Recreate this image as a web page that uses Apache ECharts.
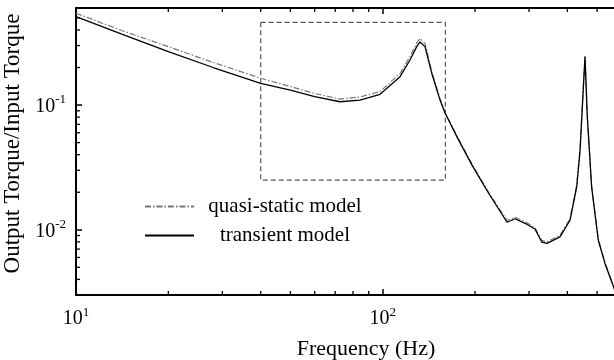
<!DOCTYPE html>
<html>
<head>
<meta charset="utf-8">
<script src="https://cdn.jsdelivr.net/npm/echarts@6/dist/echarts.min.js"></script>
<style>html,body{margin:0;padding:0;background:#fff;}#c{width:614px;height:360px;}</style>
</head>
<body>
<div id="c"></div>
<script>
// ---- data ----
const freqHz = [10, 14.1, 20, 28, 40, 50, 60, 72.6, 84.3, 98, 113.9, 122.7, 129.1, 132.3, 137.4, 144.5, 153.8, 159.7, 176.1, 195.5, 220.4, 241.3, 254.3, 270, 293.3, 313.8, 330, 343.4, 378.4, 408, 429, 440, 448.7, 456.6, 464.5, 479.8, 504.5, 530.7, 564.9, 593.9];
const transientModel = [0.512, 0.37, 0.268, 0.2, 0.149, 0.132, 0.1166, 0.1063, 0.1096, 0.122, 0.1688, 0.2298, 0.294, 0.3206, 0.294, 0.1797, 0.1096, 0.0863, 0.0533, 0.033, 0.02, 0.01408, 0.01149, 0.01226, 0.01117, 0.0101, 0.00798, 0.00779, 0.00876, 0.01192, 0.0221, 0.0435, 0.1097, 0.2445, 0.0805, 0.0221, 0.00824, 0.00535, 0.00352, 0.00248];
const quasiStaticModel = [0.545, 0.396, 0.294, 0.2195, 0.164, 0.1408, 0.1237, 0.1117, 0.116, 0.1283, 0.179, 0.2453, 0.3148, 0.342, 0.312, 0.1858, 0.1117, 0.0871, 0.0543, 0.0336, 0.0204, 0.01447, 0.01192, 0.0126, 0.01149, 0.01038, 0.00823, 0.00801, 0.00903, 0.01226, 0.0228, 0.0445, 0.112, 0.2445, 0.082, 0.0226, 0.0084, 0.00545, 0.00358, 0.00252];
const seriesNames = ['quasi-static model', 'transient model'];
const zoomBoxX = [40, 160];
const zoomBoxY = [0.025, 0.46];
const xRange = [10, 778];
const yRange = [0.003, 0.6];
const xMinorTicks = [20, 30, 40, 50, 60, 70, 80, 90, 200, 300, 400, 500, 600, 700];
const yMinorTicks = [0.004, 0.005, 0.006, 0.007, 0.008, 0.009, 0.02, 0.03, 0.04, 0.05, 0.06, 0.07, 0.08, 0.09, 0.2, 0.3, 0.4, 0.5];
const xTitle = 'Frequency (Hz)';
const yTitle = 'Output Torque/Input Torque';

const FONT = '"Liberation Serif", "Times New Roman", serif';
function pow10Label(v) {
  const l = Math.log10(v);
  if (Math.abs(l - Math.round(l)) > 1e-6) return '';
  return '{m|10}{s|' + Math.round(l) + '}';
}
const richLbl = {
  m: {fontSize: 20, fontFamily: FONT, color: '#000', verticalAlign: 'bottom'},
  s: {fontSize: 13, fontFamily: FONT, color: '#000', verticalAlign: 'bottom', padding: [0, 0, 10, 0]}
};

const chart = echarts.init(document.getElementById('c'), null, {renderer: 'canvas'});
const qsData = freqHz.map((f, i) => [f, quasiStaticModel[i]]);
const trData = freqHz.map((f, i) => [f, transientModel[i]]);
const boxData = [[zoomBoxX[0], zoomBoxY[1]], [zoomBoxX[1], zoomBoxY[1]], [zoomBoxX[1], zoomBoxY[0]], [zoomBoxX[0], zoomBoxY[0]], [zoomBoxX[0], zoomBoxY[1]]];

chart.setOption({
  animation: false,
  backgroundColor: '#fff',
  grid: {left: 76, top: 8, width: 580, height: 287, outerBoundsMode: 'none', containLabel: false, show: false},
  legend: {
    data: seriesNames,
    orient: 'vertical',
    left: 139, top: 191,
    itemWidth: 49, itemHeight: 12, itemGap: 8,
    itemStyle: {opacity: 0},
    textStyle: {fontFamily: FONT, fontSize: 21, color: '#000', rich: {c: {width: 172, align: 'center', fontFamily: FONT, fontSize: 21, color: '#000'}}},
    formatter: n => '{c|' + n + '}',
    selectedMode: false
  },
  xAxis: [{
    type: 'log', logBase: 10, min: xRange[0], max: xRange[1],
    position: 'bottom',
    name: xTitle, nameLocation: 'middle', nameGap: 43,
    nameTextStyle: {fontFamily: FONT, fontSize: 22, color: '#000'},
    axisLine: {show: true, lineStyle: {color: '#000', width: 2}},
    axisTick: {show: true, inside: true, length: 6, lineStyle: {color: '#000', width: 1.5}},
    axisLabel: {show: true, margin: 11, formatter: pow10Label, rich: richLbl},
    splitLine: {show: false}, minorTick: {show: false}
  }, {
    type: 'log', logBase: 10, min: xRange[0], max: xRange[1],
    position: 'top',
    axisLine: {show: true, lineStyle: {color: '#000', width: 2}},
    axisTick: {show: true, inside: true, length: 6, lineStyle: {color: '#000', width: 1.5}},
    axisLabel: {show: false}, splitLine: {show: false}
  }],
  yAxis: [{
    type: 'log', logBase: 10, min: yRange[0], max: yRange[1],
    position: 'left',
    name: yTitle, nameLocation: 'middle', nameGap: 48, nameRotate: 90,
    nameTextStyle: {fontFamily: FONT, fontSize: 23, color: '#000', padding: [0, 0, 0, 16]},
    axisLine: {show: true, lineStyle: {color: '#000', width: 2}},
    axisTick: {show: true, inside: true, length: 6, lineStyle: {color: '#000', width: 1.5}},
    axisLabel: {show: true, margin: 10, formatter: pow10Label, rich: richLbl},
    splitLine: {show: false}
  }],
  series: [{
    name: seriesNames[0], type: 'line', data: qsData, symbol: 'none', smooth: false,
    lineStyle: {color: '#777', width: 1.2, type: [6, 2, 1.5, 2]},
    itemStyle: {color: '#777'}, z: 3
  }, {
    name: seriesNames[1], type: 'line', data: trData, symbol: 'none', smooth: false,
    lineStyle: {color: '#000', width: 1.3, type: 'solid'},
    itemStyle: {color: '#000'}, z: 4
  }, {
    name: 'zoom box', type: 'line', data: boxData, symbol: 'none',
    lineStyle: {color: '#555', width: 1.2, type: [5, 3]}, silent: true, z: 2
  }, {
    name: 'xminor', type: 'custom', silent: true, clip: false, z: 10,
    data: xMinorTicks.map(f => [f, yRange[0]]),
    renderItem: (params, api) => {
      const f = api.value(0);
      const b = api.coord([f, yRange[0]]);
      const t = api.coord([f, yRange[1]]);
      const st = {stroke: '#000', lineWidth: 1.3};
      return {type: 'group', children: [
        {type: 'line', shape: {x1: b[0], y1: b[1], x2: b[0], y2: b[1] - 4}, style: st},
        {type: 'line', shape: {x1: t[0], y1: t[1], x2: t[0], y2: t[1] + 4}, style: st}
      ]};
    }
  }, {
    name: 'yminor', type: 'custom', silent: true, clip: false, z: 10,
    data: yMinorTicks.map(v => [xRange[0], v]),
    renderItem: (params, api) => {
      const v = api.value(1);
      const p = api.coord([xRange[0], v]);
      return {type: 'line', shape: {x1: p[0], y1: p[1], x2: p[0] + 4, y2: p[1]}, style: {stroke: '#000', lineWidth: 1.3}};
    }
  }]
});
</script>
</body>
</html>
